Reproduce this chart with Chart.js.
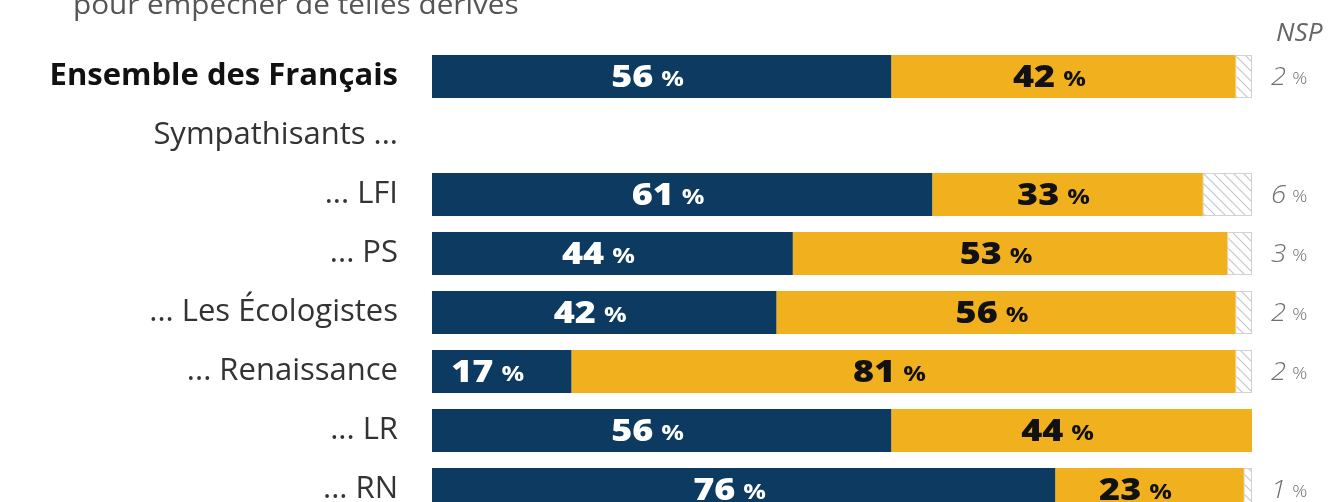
<!DOCTYPE html>
<html><head><meta charset="utf-8">
<script src="https://cdn.jsdelivr.net/npm/chart.js@4.4.1/dist/chart.umd.min.js"></script>
<style>
html,body{margin:0;padding:0;background:#fff;overflow:hidden;}
canvas{display:block;}
</style></head>
<body>
<canvas id="c" width="1330" height="530"></canvas>
<script>
const categories = ["Ensemble des Français", "Sympathisants ...", "... LFI", "... PS", "... Les Écologistes", "... Renaissance", "... LR", "... RN"];
const oui = [56, null, 61, 44, 42, 17, 56, 76];
const non = [42, null, 33, 53, 56, 81, 44, 23];
const nsp = [2, null, 6, 3, 2, 2, null, 1];
const titleText = "pour empêcher de telles dérives";
const nspHeader = "NSP";

const NAVY = '#0d3a61';
const GOLD = '#f1b01e';
const SX = 1.2; // horizontal text stretch of the original

function hatch() {
  const c = document.createElement('canvas');
  c.width = 10; c.height = 10;
  const g = c.getContext('2d');
  g.fillStyle = '#fff'; g.fillRect(0,0,10,10);
  g.strokeStyle = '#c4c8cc'; g.lineWidth = 1.2;
  g.beginPath();
  g.moveTo(0,0); g.lineTo(10,10);
  g.moveTo(-5,5); g.lineTo(5,15);
  g.moveTo(5,-5); g.lineTo(15,5);
  g.stroke();
  return g.createPattern(c, 'repeat');
}

function stretchedText(ctx, text, x, y, sx) {
  ctx.save();
  ctx.translate(x, y);
  ctx.scale(sx, 1);
  ctx.fillText(text, 0, 0);
  ctx.restore();
}

const labelPlugin = {
  id: 'labels',
  afterDatasetsDraw(chart) {
    const ctx = chart.ctx;
    const area = chart.chartArea;
    ctx.save();
    ctx.textAlign = 'left';
    // title (cut at top)
    ctx.font = '27px "Open Sans"';
    ctx.fillStyle = '#555';
    ctx.textBaseline = 'alphabetic';
    stretchedText(ctx, titleText, 73, 14, 1.1);
    // NSP header
    ctx.font = 'italic 25px "Open Sans"';
    ctx.fillStyle = '#666';
    stretchedText(ctx, nspHeader, area.right + 24, 41, 1.05);

    // values inside bars
    [0,1].forEach(di => {
      const meta = chart.getDatasetMeta(di);
      const vals = chart.data.datasets[di].data;
      meta.data.forEach((el, i) => {
        const v = vals[i];
        if (v == null) return;
        const cx = (el.x + el.base) / 2 - 14;
        const cy = el.y + 2;
        const num = String(v);
        ctx.font = '800 30px "Open Sans"';
        const w1 = ctx.measureText(num).width * SX;
        ctx.font = '700 21px "Open Sans"';
        const w2 = ctx.measureText('%').width * SX;
        const gap = 8;
        const total = w1 + gap + w2;
        const x0 = cx - total / 2;
        ctx.fillStyle = di === 0 ? '#ffffff' : '#111111';
        ctx.textBaseline = 'middle';
        ctx.font = '800 30px "Open Sans"';
        stretchedText(ctx, num, x0, cy, SX);
        ctx.font = '700 21px "Open Sans"';
        stretchedText(ctx, '%', x0 + w1 + gap, cy + 2, SX);
      });
    });
    // NSP values
    const meta2 = chart.getDatasetMeta(2);
    const vals2 = chart.data.datasets[2].data;
    meta2.data.forEach((el, i) => {
      const v = vals2[i];
      if (v == null) return;
      const x0 = area.right + 19;
      const cy = el.y + 1;
      ctx.fillStyle = '#6f6f6f';
      ctx.textBaseline = 'middle';
      ctx.font = 'italic 300 25px "Open Sans"';
      const num = String(v);
      const w1 = ctx.measureText(num).width * 1.1;
      stretchedText(ctx, num, x0, cy, 1.1);
      ctx.font = '300 17px "Open Sans"';
      stretchedText(ctx, '%', x0 + w1 + 6, cy + 2, 1.1);
    });
    ctx.restore();
  }
};

new Chart(document.getElementById('c'), {
  type: 'bar',
  data: {
    labels: categories,
    datasets: [
      { label: 'Oui', data: oui, backgroundColor: NAVY, borderWidth: 0 },
      { label: 'Non', data: non, backgroundColor: GOLD, borderWidth: 0 },
      { label: 'NSP', data: nsp, backgroundColor: hatch(), borderColor: '#d0d3d6', borderWidth: 1, borderSkipped: false }
    ]
  },
  options: {
    indexAxis: 'y',
    responsive: false,
    maintainAspectRatio: false,
    animation: false,
    devicePixelRatio: 1,
    layout: { padding: { top: 47, bottom: 11, right: 78, left: 0 } },
    datasets: { bar: { categoryPercentage: 1, barPercentage: 0.73 } },
    plugins: { legend: { display: false }, tooltip: { enabled: false } },
    scales: {
      x: { stacked: true, min: 0, max: 100, display: false },
      y: {
        stacked: true,
        grid: { display: false, drawTicks: false },
        border: { display: false },
        afterFit(scale) { scale.width = 432; scale.paddingTop = 0; scale.paddingBottom = 0; },
        ticks: {
          padding: 34,
          font: (ctx) => ctx.index === 0 ? { family: 'Open Sans', size: 31, weight: 'bold' } : { family: 'Open Sans', size: 31, weight: 'normal' },
          color: (ctx) => ctx.index === 0 ? '#111' : '#333'
        }
      }
    }
  },
  plugins: [labelPlugin]
});
</script>
</body></html>
